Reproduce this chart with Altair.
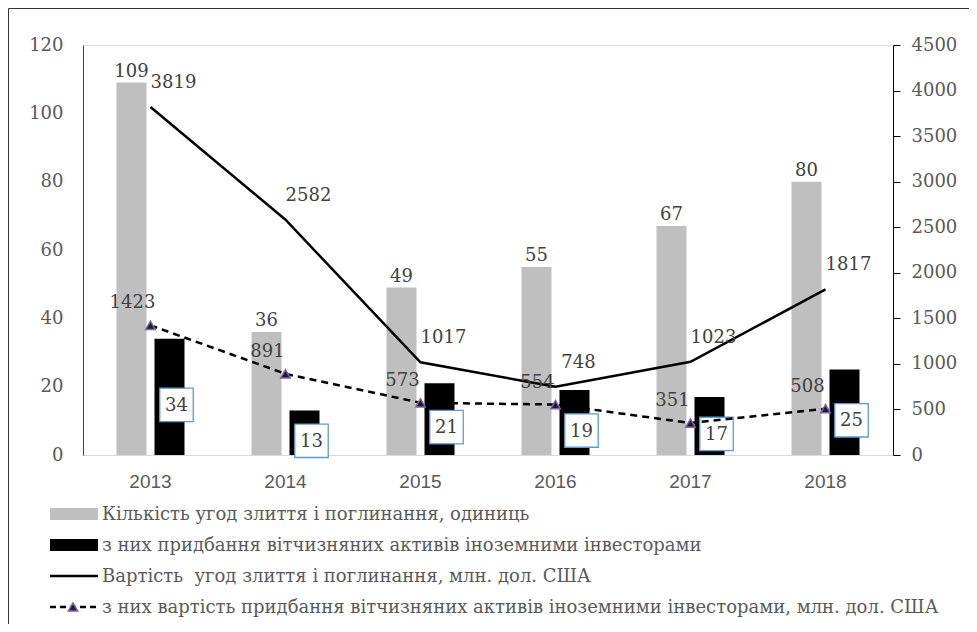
import altair as alt
import pandas as pd

years = ["2013", "2014", "2015", "2016", "2017", "2018"]
deals_count = [109, 36, 49, 55, 67, 80]
foreign_count = [34, 13, 21, 19, 17, 25]
deals_value = [3819, 2582, 1017, 748, 1023, 1817]
foreign_value = [1423, 891, 573, 554, 351, 508]
left_ticks = [0, 20, 40, 60, 80, 100, 120]
right_ticks = [0, 500, 1000, 1500, 2000, 2500, 3000, 3500, 4000, 4500]
legend_labels = [
    "Кількість угод злиття і поглинання, одиниць",
    "з них придбання вітчизняних активів іноземними інвесторами",
    "Вартість\u00a0 угод злиття і поглинання, млн. дол. США",
    "з них вартість придбання вітчизняних активів іноземними інвесторами, млн. дол. США",
]

df = pd.DataFrame({
    "year": years,
    "count": deals_count,
    "fcount": foreign_count,
    "value": deals_value,
    "fvalue": foreign_value,
})

SERIF = "DejaVu Serif"
NUM_FS = 18
LABEL_C = "#404040"
AXIS_C = "#595959"

x_enc = alt.X(
    "year:O",
    scale=alt.Scale(paddingInner=0, paddingOuter=0),
    axis=alt.Axis(title=None, labelAngle=0, ticks=False, domainColor="#D9D9D9",
                  domainWidth=1, labelFont="Liberation Sans", labelFontSize=19,
                  labelColor=AXIS_C, labelPadding=17, grid=False),
)

axL = alt.Axis(title=None, values=left_ticks, ticks=False, domainColor="#404040",
               labelFont=SERIF, labelFontSize=NUM_FS, labelColor=AXIS_C,
               labelPadding=20, grid=False, orient="left", format="d")
axR = alt.Axis(title=None, values=right_ticks, ticks=True, tickSize=7, tickColor="black",
               domainColor="black", labelFont=SERIF, labelFontSize=NUM_FS,
               labelColor=AXIS_C, labelPadding=11, grid=False, orient="right", format="d")

yL = alt.Scale(domain=[0, 120], nice=False)
yR = alt.Scale(domain=[0, 4500], nice=False)

base = alt.Chart(df)

grey = base.mark_bar(width=30, xOffset=-19, color="#BFBFBF").encode(
    x=x_enc, y=alt.Y("count:Q", scale=yL, axis=axL))
black = base.mark_bar(width=30, xOffset=19, color="black").encode(
    x=x_enc, y=alt.Y("fcount:Q", scale=yL, axis=axL))
grey_lbl = base.mark_text(xOffset=-19, dy=-6, baseline="alphabetic", font=SERIF,
                          fontSize=NUM_FS, color=LABEL_C).encode(
    x=x_enc, y=alt.Y("count:Q", scale=yL, axis=axL), text="count:Q")
boxes = base.transform_calculate(half="datum.fcount / 2").mark_point(
    shape="square", size=1120, filled=True, fill="white", stroke="#5B9BD5",
    strokeWidth=1.3, opacity=1, xOffset=26, yOffset=8).encode(
    x=x_enc, y=alt.Y("half:Q", scale=yL, axis=axL))
box_txt = base.transform_calculate(half="datum.fcount / 2").mark_text(
    xOffset=26, yOffset=9, baseline="middle", font=SERIF, fontSize=NUM_FS,
    color=LABEL_C).encode(
    x=x_enc, y=alt.Y("half:Q", scale=yL, axis=axL), text="fcount:Q")

bars = alt.layer(grey, black, grey_lbl, boxes, box_txt)

solid = base.mark_line(color="black", strokeWidth=2.5).encode(
    x=x_enc, y=alt.Y("value:Q", scale=yR, axis=axR))
dashed = base.mark_line(color="black", strokeWidth=2.5, strokeDash=[7, 5]).encode(
    x=x_enc, y=alt.Y("fvalue:Q", scale=yR, axis=axR))
tri = base.mark_point(shape="triangle-up", size=90, filled=True, fill="#1c1c3a",
                      stroke="#8064A2", strokeWidth=1.5, opacity=1).encode(
    x=x_enc, y=alt.Y("fvalue:Q", scale=yR, axis=axR))
solid_lbl = base.mark_text(dx=23, dy=-24, font=SERIF, fontSize=NUM_FS, color=LABEL_C).encode(
    x=x_enc, y=alt.Y("value:Q", scale=yR, axis=axR), text="value:Q")
dashed_lbl = base.mark_text(dx=-18, dy=-22, font=SERIF, fontSize=NUM_FS, color=LABEL_C).encode(
    x=x_enc, y=alt.Y("fvalue:Q", scale=yR, axis=axR), text="fvalue:Q")

lines = alt.layer(solid, dashed, tri, solid_lbl, dashed_lbl)

leg_layers = []
row_y = [469, 500, 531, 562]
for i, lab in enumerate(legend_labels):
    ldf = pd.DataFrame({"label": [lab]})
    lc = alt.Chart(ldf)
    yv = row_y[i]
    if i == 0:
        leg_layers.append(lc.mark_rect(color="#BFBFBF").encode(
            x=alt.value(-33), x2=alt.value(15), y=alt.value(yv - 6), y2=alt.value(yv + 6)))
    elif i == 1:
        leg_layers.append(lc.mark_rect(color="black").encode(
            x=alt.value(-33), x2=alt.value(15), y=alt.value(yv - 6), y2=alt.value(yv + 6)))
    elif i == 2:
        leg_layers.append(lc.mark_rule(color="black", strokeWidth=2.5).encode(
            x=alt.value(-33), x2=alt.value(15), y=alt.value(yv)))
    else:
        leg_layers.append(lc.mark_rule(color="black", strokeWidth=2.5, strokeDash=[6, 4]).encode(
            x=alt.value(-33), x2=alt.value(15), y=alt.value(yv)))
        leg_layers.append(lc.mark_point(shape="triangle-up", size=90, filled=True,
                                        fill="#1c1c3a", stroke="#8064A2", strokeWidth=1.5,
                                        opacity=1).encode(
            x=alt.value(-10), y=alt.value(yv)))
    leg_layers.append(lc.mark_text(align="left", baseline="middle", font=SERIF,
                                   fontSize=18, color=AXIS_C).encode(
        x=alt.value(19), y=alt.value(yv + 1), text="label:N"))

frame_df = pd.DataFrame({"k": [0]})
frame_top = alt.Chart(frame_df).mark_rule(color="#333333", strokeWidth=1).encode(
    x=alt.value(-74.5), x2=alt.value(890), y=alt.value(-36.5))
frame_left = alt.Chart(frame_df).mark_rule(color="#333333", strokeWidth=1).encode(
    x=alt.value(-74.5), y=alt.value(-36.5), y2=alt.value(580))

chart = alt.layer(bars, lines, *leg_layers, frame_top, frame_left).resolve_scale(
    y="independent"
).properties(
    width=810,
    height=410,
    autosize=alt.AutoSizeParams(type="none"),
    padding={"left": 75, "top": 37, "right": 76, "bottom": 169},
).configure_view(stroke=None).configure(background="white")

chart.save("out.html", embed_options={"renderer": "svg", "actions": False})
